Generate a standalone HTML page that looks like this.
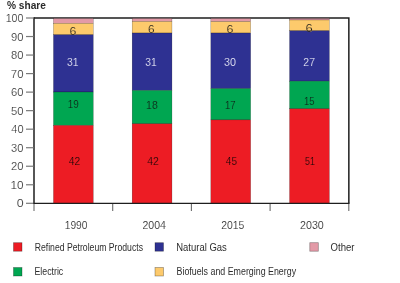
<!DOCTYPE html>
<html><head><meta charset="utf-8"><style>
html,body{margin:0;padding:0;background:#fff;width:400px;height:283px;overflow:hidden}
svg{display:block;will-change:transform}
.t{font-family:"Liberation Sans",sans-serif;font-size:10px;fill:#2e2e2e}
.h{font-family:"Liberation Sans",sans-serif;font-size:11px;font-weight:bold;fill:#2b2b2b}
</style></head><body>
<svg width="400" height="283" viewBox="0 0 400 283">
<rect x="0" y="0" width="400" height="283" fill="#fff"/>
<path d="M34 17.9 H348.85 V203.3" fill="none" stroke="#1e1e1e" stroke-width="1.5"/>
<line x1="34" y1="17.2" x2="34" y2="203.3" stroke="#1e1e1e" stroke-width="1.5"/>
<line x1="34" y1="203.3" x2="34" y2="211" stroke="#8c8c8c" stroke-width="1.4"/>
<line x1="112.7" y1="204" x2="112.7" y2="211" stroke="#6a6a6a" stroke-width="1.1"/>
<line x1="191.4" y1="204" x2="191.4" y2="211" stroke="#6a6a6a" stroke-width="1.1"/>
<line x1="270.1" y1="204" x2="270.1" y2="211" stroke="#6a6a6a" stroke-width="1.1"/>
<line x1="348.8" y1="204" x2="348.8" y2="211" stroke="#6a6a6a" stroke-width="1.1"/>
<line x1="26" y1="203.30" x2="33.5" y2="203.30" stroke="#7a7a7a" stroke-width="1.2"/>
<line x1="26" y1="184.77" x2="33.5" y2="184.77" stroke="#7a7a7a" stroke-width="1.2"/>
<line x1="26" y1="166.24" x2="33.5" y2="166.24" stroke="#7a7a7a" stroke-width="1.2"/>
<line x1="26" y1="147.71" x2="33.5" y2="147.71" stroke="#7a7a7a" stroke-width="1.2"/>
<line x1="26" y1="129.18" x2="33.5" y2="129.18" stroke="#7a7a7a" stroke-width="1.2"/>
<line x1="26" y1="110.65" x2="33.5" y2="110.65" stroke="#7a7a7a" stroke-width="1.2"/>
<line x1="26" y1="92.12" x2="33.5" y2="92.12" stroke="#7a7a7a" stroke-width="1.2"/>
<line x1="26" y1="73.59" x2="33.5" y2="73.59" stroke="#7a7a7a" stroke-width="1.2"/>
<line x1="26" y1="55.06" x2="33.5" y2="55.06" stroke="#7a7a7a" stroke-width="1.2"/>
<line x1="26" y1="36.53" x2="33.5" y2="36.53" stroke="#7a7a7a" stroke-width="1.2"/>
<line x1="26" y1="18.00" x2="33.5" y2="18.00" stroke="#7a7a7a" stroke-width="1.2"/>
<rect x="53.45" y="18.50" width="39.8" height="4.90" fill="#e39aa7" stroke="rgba(0,0,0,0.55)" stroke-width="0.35"/>
<rect x="53.45" y="23.40" width="39.8" height="11.40" fill="#fdca6c" stroke="rgba(0,0,0,0.55)" stroke-width="0.35"/>
<rect x="53.45" y="34.80" width="39.8" height="57.20" fill="#2e3192" stroke="rgba(0,0,0,0.55)" stroke-width="0.35"/>
<rect x="53.45" y="92.00" width="39.8" height="33.40" fill="#00a651" stroke="rgba(0,0,0,0.55)" stroke-width="0.35"/>
<rect x="53.45" y="125.40" width="39.8" height="77.80" fill="#ed1c24" stroke="rgba(0,0,0,0.55)" stroke-width="0.35"/>
<rect x="132.15" y="18.50" width="39.8" height="3.00" fill="#e39aa7" stroke="rgba(0,0,0,0.55)" stroke-width="0.35"/>
<rect x="132.15" y="21.50" width="39.8" height="11.50" fill="#fdca6c" stroke="rgba(0,0,0,0.55)" stroke-width="0.35"/>
<rect x="132.15" y="33.00" width="39.8" height="57.40" fill="#2e3192" stroke="rgba(0,0,0,0.55)" stroke-width="0.35"/>
<rect x="132.15" y="90.40" width="39.8" height="33.40" fill="#00a651" stroke="rgba(0,0,0,0.55)" stroke-width="0.35"/>
<rect x="132.15" y="123.80" width="39.8" height="79.40" fill="#ed1c24" stroke="rgba(0,0,0,0.55)" stroke-width="0.35"/>
<rect x="210.85" y="18.50" width="39.8" height="3.10" fill="#e39aa7" stroke="rgba(0,0,0,0.55)" stroke-width="0.35"/>
<rect x="210.85" y="21.60" width="39.8" height="11.40" fill="#fdca6c" stroke="rgba(0,0,0,0.55)" stroke-width="0.35"/>
<rect x="210.85" y="33.00" width="39.8" height="55.60" fill="#2e3192" stroke="rgba(0,0,0,0.55)" stroke-width="0.35"/>
<rect x="210.85" y="88.60" width="39.8" height="31.30" fill="#00a651" stroke="rgba(0,0,0,0.55)" stroke-width="0.35"/>
<rect x="210.85" y="119.90" width="39.8" height="83.30" fill="#ed1c24" stroke="rgba(0,0,0,0.55)" stroke-width="0.35"/>
<rect x="289.55" y="18.50" width="39.8" height="1.50" fill="#e39aa7" stroke="rgba(0,0,0,0.55)" stroke-width="0.35"/>
<rect x="289.55" y="20.00" width="39.8" height="10.80" fill="#fdca6c" stroke="rgba(0,0,0,0.55)" stroke-width="0.35"/>
<rect x="289.55" y="30.80" width="39.8" height="50.30" fill="#2e3192" stroke="rgba(0,0,0,0.55)" stroke-width="0.35"/>
<rect x="289.55" y="81.10" width="39.8" height="27.70" fill="#00a651" stroke="rgba(0,0,0,0.55)" stroke-width="0.35"/>
<rect x="289.55" y="108.80" width="39.8" height="94.40" fill="#ed1c24" stroke="rgba(0,0,0,0.55)" stroke-width="0.35"/>
<line x1="33.25" y1="203.3" x2="349.6" y2="203.3" stroke="#1e1e1e" stroke-width="1.3"/>
<rect x="13.5" y="242.7" width="8.5" height="8.5" fill="#ed1c24" stroke="rgba(0,0,0,0.4)" stroke-width="0.7"/>
<rect x="13.5" y="267.5" width="8.5" height="8.5" fill="#00a651" stroke="rgba(0,0,0,0.4)" stroke-width="0.7"/>
<rect x="155.0" y="242.7" width="8.5" height="8.5" fill="#2e3192" stroke="rgba(0,0,0,0.4)" stroke-width="0.7"/>
<rect x="155.0" y="267.5" width="8.5" height="8.5" fill="#fdca6c" stroke="rgba(0,0,0,0.4)" stroke-width="0.7"/>
<rect x="309.8" y="242.7" width="8.5" height="8.5" fill="#e39aa7" stroke="rgba(0,0,0,0.4)" stroke-width="0.7"/>
<text x="6.98" y="9.41" textLength="39.03" lengthAdjust="spacingAndGlyphs" class="h" style="">% share</text>
<text x="16.74" y="207.45" textLength="6.90" lengthAdjust="spacingAndGlyphs" class="t" style="stroke:#fff;stroke-width:0.15">0</text>
<text x="10.56" y="188.52" textLength="13.08" lengthAdjust="spacingAndGlyphs" class="t" style="stroke:#fff;stroke-width:0.15">10</text>
<text x="11.13" y="170.09" textLength="12.50" lengthAdjust="spacingAndGlyphs" class="t" style="stroke:#fff;stroke-width:0.15">20</text>
<text x="11.01" y="151.61" textLength="12.40" lengthAdjust="spacingAndGlyphs" class="t" style="stroke:#fff;stroke-width:0.15">30</text>
<text x="11.28" y="133.16" textLength="12.25" lengthAdjust="spacingAndGlyphs" class="t" style="stroke:#fff;stroke-width:0.15">40</text>
<text x="10.90" y="114.71" textLength="12.54" lengthAdjust="spacingAndGlyphs" class="t" style="stroke:#fff;stroke-width:0.15">50</text>
<text x="11.08" y="96.49" textLength="12.49" lengthAdjust="spacingAndGlyphs" class="t" style="stroke:#fff;stroke-width:0.15">60</text>
<text x="10.89" y="77.64" textLength="12.61" lengthAdjust="spacingAndGlyphs" class="t" style="stroke:#fff;stroke-width:0.15">70</text>
<text x="11.10" y="59.21" textLength="12.50" lengthAdjust="spacingAndGlyphs" class="t" style="stroke:#fff;stroke-width:0.15">80</text>
<text x="10.90" y="40.56" textLength="12.48" lengthAdjust="spacingAndGlyphs" class="t" style="stroke:#fff;stroke-width:0.15">90</text>
<text x="5.70" y="21.65" textLength="17.77" lengthAdjust="spacingAndGlyphs" class="t" style="stroke:#fff;stroke-width:0.15">100</text>
<text x="64.70" y="228.74" textLength="22.77" lengthAdjust="spacingAndGlyphs" class="t" style="stroke:#fff;stroke-width:0.1">1990</text>
<text x="142.43" y="228.85" textLength="23.52" lengthAdjust="spacingAndGlyphs" class="t" style="stroke:#fff;stroke-width:0.1">2004</text>
<text x="221.24" y="228.76" textLength="23.19" lengthAdjust="spacingAndGlyphs" class="t" style="stroke:#fff;stroke-width:0.1">2015</text>
<text x="300.01" y="229.42" textLength="23.83" lengthAdjust="spacingAndGlyphs" class="t" style="stroke:#fff;stroke-width:0.1">2030</text>
<text x="34.73" y="250.98" textLength="108.28" lengthAdjust="spacingAndGlyphs" class="t" style="">Refined Petroleum Products</text>
<text x="34.54" y="274.57" textLength="28.71" lengthAdjust="spacingAndGlyphs" class="t" style="">Electric</text>
<text x="176.22" y="251.04" textLength="50.59" lengthAdjust="spacingAndGlyphs" class="t" style="">Natural Gas</text>
<text x="176.54" y="275.18" textLength="119.53" lengthAdjust="spacingAndGlyphs" class="t" style="">Biofuels and Emerging Energy</text>
<text x="330.60" y="251.13" textLength="23.94" lengthAdjust="spacingAndGlyphs" class="t" style="">Other</text>
<text x="69.52" y="34.80" textLength="6.85" lengthAdjust="spacingAndGlyphs" class="t" style="fill:#1a1a1a;stroke:#fdca6c;stroke-width:0.15">6</text>
<text x="67.01" y="65.68" textLength="11.59" lengthAdjust="spacingAndGlyphs" class="t" style="fill:#eeeef8;stroke:#2e3192;stroke-width:0.15">31</text>
<text x="67.86" y="108.43" textLength="11.02" lengthAdjust="spacingAndGlyphs" class="t" style="fill:#102018;stroke:#00a651;stroke-width:0.15">19</text>
<text x="68.84" y="164.79" textLength="11.41" lengthAdjust="spacingAndGlyphs" class="t" style="fill:#1a0808;stroke:#ed1c24;stroke-width:0.15">42</text>
<text x="148.03" y="32.83" textLength="6.56" lengthAdjust="spacingAndGlyphs" class="t" style="fill:#1a1a1a;stroke:#fdca6c;stroke-width:0.15">6</text>
<text x="145.25" y="66.47" textLength="11.47" lengthAdjust="spacingAndGlyphs" class="t" style="fill:#eeeef8;stroke:#2e3192;stroke-width:0.15">31</text>
<text x="146.09" y="108.69" textLength="11.72" lengthAdjust="spacingAndGlyphs" class="t" style="fill:#102018;stroke:#00a651;stroke-width:0.15">18</text>
<text x="147.27" y="164.68" textLength="11.61" lengthAdjust="spacingAndGlyphs" class="t" style="fill:#1a0808;stroke:#ed1c24;stroke-width:0.15">42</text>
<text x="226.41" y="32.93" textLength="6.92" lengthAdjust="spacingAndGlyphs" class="t" style="fill:#1a1a1a;stroke:#fdca6c;stroke-width:0.15">6</text>
<text x="224.04" y="65.92" textLength="11.98" lengthAdjust="spacingAndGlyphs" class="t" style="fill:#eeeef8;stroke:#2e3192;stroke-width:0.15">30</text>
<text x="225.06" y="108.84" textLength="10.60" lengthAdjust="spacingAndGlyphs" class="t" style="fill:#102018;stroke:#00a651;stroke-width:0.15">17</text>
<text x="225.83" y="164.54" textLength="11.13" lengthAdjust="spacingAndGlyphs" class="t" style="fill:#1a0808;stroke:#ed1c24;stroke-width:0.15">45</text>
<text x="305.46" y="31.71" textLength="7.20" lengthAdjust="spacingAndGlyphs" class="t" style="fill:#1a1a1a;stroke:#fdca6c;stroke-width:0.15">6</text>
<text x="303.35" y="66.11" textLength="11.60" lengthAdjust="spacingAndGlyphs" class="t" style="fill:#eeeef8;stroke:#2e3192;stroke-width:0.15">27</text>
<text x="303.96" y="104.80" textLength="10.56" lengthAdjust="spacingAndGlyphs" class="t" style="fill:#102018;stroke:#00a651;stroke-width:0.15">15</text>
<text x="304.96" y="164.78" textLength="9.87" lengthAdjust="spacingAndGlyphs" class="t" style="fill:#1a0808;stroke:#ed1c24;stroke-width:0.15">51</text>
</svg>
</body></html>
